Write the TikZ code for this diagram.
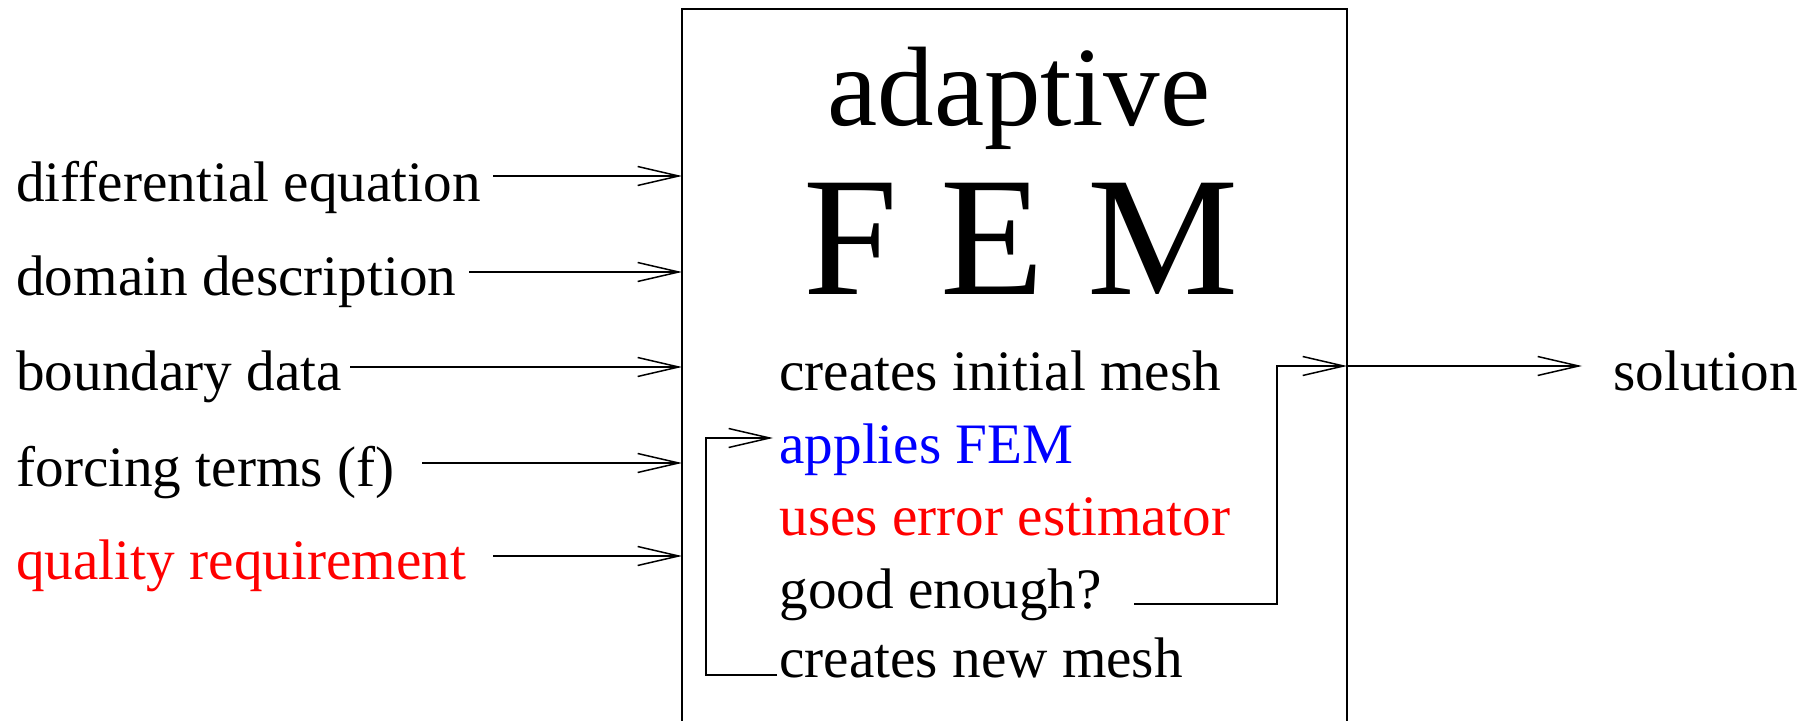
\documentclass[tikz,border=0pt]{standalone}
\usepackage{fontspec}
\setmainfont{Liberation Serif}
\usetikzlibrary{arrows.meta}
\definecolor{fblue}{RGB}{0,0,255}
\definecolor{fred}{RGB}{255,0,0}
\begin{document}
\begin{tikzpicture}[x=0.5pt,y=-0.5pt,
  lbl/.style={anchor=base west,inner sep=0pt,font=\fontsize{28.6}{34}\selectfont},
  flow/.style={line width=0.75pt,-{Straight Barb[length=20.5pt,width=9.5pt,line width=0.75pt]}},
  plain/.style={line width=0.75pt}]
\useasboundingbox (0,0) rectangle (1810,721);
% box (open at the bottom)
\coordinate (bl) at (682,721);
\coordinate (tl) at (682,9);
\coordinate (tr) at (1347,9);
\coordinate (br) at (1347,721);
\draw[plain] (bl) -- (tl) -- (tr) -- (br);
% title
\node[anchor=base,inner sep=0pt,font=\fontsize{56.5}{60}\selectfont] (t1) at (1019,126) {adaptive};
\node[anchor=base,inner sep=0pt,font=\fontsize{85}{90}\selectfont] (t2) at (1021,295) {F E M};
% inputs
\node[lbl] (i1) at (16,202) {differential equation};
\node[lbl] (i2) at (16,296) {domain description};
\node[lbl] (i3) at (16,391) {boundary data};
\node[lbl] (i4) at (16,487) {forcing terms (f)};
\node[lbl,text=fred] (i5) at (16,579) {quality requirement};
\coordinate (s1) at (493,176); \coordinate (e1) at (682,176);
\coordinate (s2) at (469,272); \coordinate (e2) at (682,272);
\coordinate (s3) at (350,367); \coordinate (e3) at (682,367);
\coordinate (s4) at (422,463); \coordinate (e4) at (682,463);
\coordinate (s5) at (493,556); \coordinate (e5) at (682,556);
\foreach \k in {1,...,5} {\draw[flow] (s\k) -- (e\k);}
% inner steps
\node[lbl] (c1) at (779,391) {creates initial mesh};
\node[lbl,text=fblue] (c2) at (779,464) {applies FEM};
\node[lbl,text=fred] (c3) at (779,535) {uses error estimator};
\node[lbl] (c4) at (779,608) {good enough?};
\node[lbl] (c5) at (779,677) {creates new mesh};
% loop back
\coordinate (lb) at (777,675);
\coordinate (la) at (773,438);
\draw[flow] (lb) -- (706,675) -- (706,438) -- (la);
% exit
\coordinate (g0) at (1134,604);
\coordinate (ex) at (1347,366);
\draw[flow] (g0) -- (1277,604) -- (1277,366) -- (ex);
\coordinate (so) at (1582,366);
\draw[flow] (ex) -- (so);
\node[lbl] (sol) at (1613,391) {solution};
\end{tikzpicture}
\end{document}
